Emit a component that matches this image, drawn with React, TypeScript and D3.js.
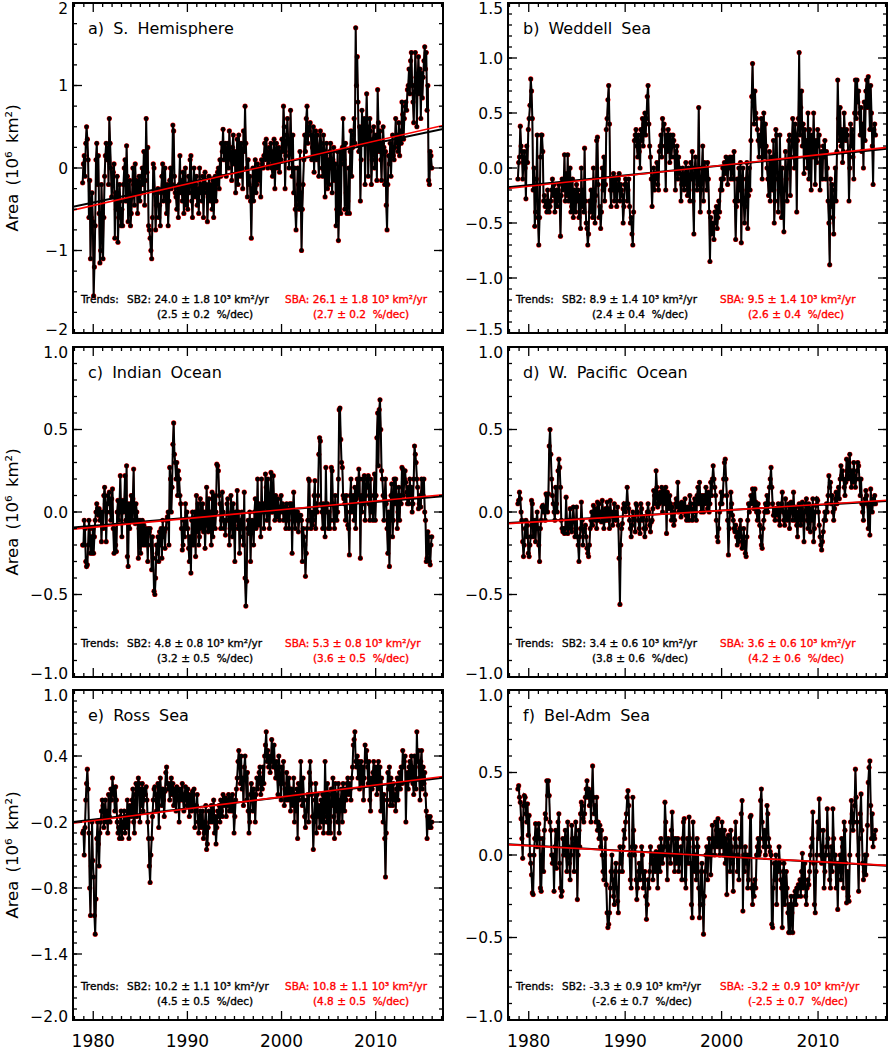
import React from 'react';
import * as d3 from 'd3';

// monthly anomalies, Nov 1978 .. Dec 2015, in hundredths of 10^6 km^2
const startYear = 1978;
const startMonth = 11;

const shArea = [
  -18, 5,
  15, -10, 30, 50, 35, 10, -60, -15, -110, -60, -30, -65,
  -155, -120, -70, 10, 30, -20, 15, -55, -115, -100, -20, -55,
  -110, -60, -10, 15, 30, 10, 25, -20, 60, 30, 0, -35,
  -20, -5, 5, -85, -30, -50, -10, -90, -60, -20, -40, -70,
  -50, -70, -20, 0, 10, -40, 27, -10, -65, -30, -15, -70,
  -55, -35, 0, -20, -45, 5, -30, -15, -55, -20, -10, -40,
  -30, -10, 0, -20, 20, -45, -15, 60, -5, 25, -70, -75,
  -85, -100, -110, -60, 5, 0, -30, -75, -45, -30, -25, -60,
  -45, -70, -30, -10, 5, -40, -20, 0, -35, -55, -20, -70,
  -40, -15, 0, -25, -20, 52, 45, -10, -30, -35, -50, -25,
  -60, -20, 15, -30, -15, -40, -5, -55, -25, 0, -45, -20,
  -50, -10, -30, 10, 15, -40, -60, -25, 0, -35, -20, -10,
  -45, -25, -55, 0, -30, -20, -40, -10, -60, -30, -5, -25,
  -20, -65, -35, -10, -30, -40, -20, -50, -15, -60, -30, -10,
  -40, -20, -5, 0, -25, 10, -10, 30, 20, 47, 10, 25,
  30, -10, 15, 30, 0, 45, 20, 10, -15, 25, 40, 5,
  20, -30, 10, 35, -20, 40, 15, -10, 30, 0, -25, 45,
  20, 75, 30, 0, -35, 10, -20, -10, -40, -85, -25, 0,
  -40, -10, 10, -30, -20, 5, -15, -5, 0, -35, 10, 5,
  0, 15, 30, 10, 35, 20, 0, 5, 25, 10, 30, 0,
  -10, 20, 35, -25, 10, 30, 0, 15, 25, -5, 20, 10,
  35, 20, 75, 50, -25, 15, 40, 60, 30, 0, 20, 70,
  25, -10, 40, -30, 0, -50, -75, -45, 0, -20, -50, 20,
  -30, -100, -50, -20, 10, 40, 20, 60, 75, 30, 50, 45,
  55, 40, 10, 25, 50, -5, 30, 45, 10, 40, 20, -10,
  25, 45, 30, 0, -10, 40, 20, -35, 15, 30, -25, 10,
  -20, 20, 30, 0, -30, 10, 25, -15, 5, -70, -50, 20,
  -88, -40, 20, -55, 5, 25, 60, 10, -50, 30, -30, -55,
  -40, 0, -55, 20, 45, -10, 25, 40, 60, 30, 170, 100,
  135, 80, 20, 50, -40, 10, 70, 45, 30, 60, -20, 40,
  90, 50, -10, 30, 60, 45, -20, 10, 35, 50, 0, 25,
  40, -15, 95, 55, 20, 45, 10, -15, 30, 50, 25, -20,
  20, -45, -75, -20, 15, 5, 30, -10, 20, 40, 15, 10,
  25, 60, 30, 40, 20, 55, 15, 45, 30, 80, 65, 35,
  60, 75, 80, 70, 95, 100, 120, 90, 130, 140, 100, 80,
  55, 100, 140, 110, 50, 105, 135, 90, 120, 60, 115, 85,
  110, 130, 147, 120, 140, 70, 100, -15, -20, 20, 15, 0,
];

const weddellArea = [
  -10, 5,
  10, 38, 20, 15, -10, 5, 15, 0, -28, 20, 5, 35,
  45, 57, 81, 70, 45, -20, 0, -53, -40, -10, 30, -45,
  -70, -45, 10, 30, 30, 15, -30, -25, -35, -30, -40, -20,
  -30, -40, -35, -30, -20, -10, -25, -15, -40, -30, -20, -35,
  -20, -15, -30, -62, -25, -10, -20, -15, 12, -30, -5, -25,
  12, -30, -25, 0, -40, -35, -10, -45, -20, -30, -40, -15,
  -30, -20, -45, -25, -55, 0, -35, -20, -40, 18, -30, -50,
  -55, -70, -60, -30, -40, -20, -35, -45, 0, -30, -50, -25,
  25, 28, -15, -45, -35, -55, -40, 0, -20, 10, -30, -15,
  35, 45, 62, 75, 40, -20, -35, -10, -20, -5, -30, -10,
  -10, -35, -20, -10, -5, -30, -15, -20, -25, -50, -35, -15,
  -10, -15, -30, -20, -10, -35, -50, -45, -60, -70, -40, 25,
  30, 35, 20, 10, 30, 15, 0, 35, 25, 45, 20, 40,
  50, 30, 45, 65, 75, 40, 20, 10, -10, -35, -10, 0,
  -20, -10, -5, 5, -15, -20, 15, 20, 30, 10, 45, 35,
  40, 20, -20, 30, 15, 35, 25, 5, 30, 10, 20, 30,
  25, 10, -20, 15, 20, -10, 10, 0, -5, -30, -15, 0,
  -10, -20, -5, 5, -15, -25, 0, -20, -30, 5, -10, 15,
  -30, -60, 0, 10, -5, -20, -15, 55, 0, -40, -20, 0,
  20, -30, 5, 0, -10, -20, 5, -10, -40, -85, -45, -60,
  -50, -55, -65, -40, -50, -35, -55, -45, -30, -40, -20, -10,
  -20, 0, -10, 5, -5, 10, 0, -15, 8, 0, 10, -10,
  5, 10, -10, 15, -30, -65, -35, -10, -30, 0, -20, 5,
  -68, -20, 0, -30, -50, -35, -10, 5, -55, -25, 0, -20,
  25, 65, 95, 60, 40, 70, 50, 45, 35, 25, 10, 30,
  20, 45, -10, 30, 50, 10, 40, 20, 0, -10, -25, 15,
  -30, 0, 10, -20, 25, -50, -30, 35, 30, -10, -40, -20,
  30, -10, -45, 0, -30, -58, -20, 15, -10, -30, 0, 25,
  30, -25, 10, 25, 45, 20, 0, 40, 30, -40, 25, 45,
  105, 30, 55, 70, 20, 40, -5, 35, 10, 25, 0, 50,
  -10, 35, 20, -20, 30, 10, 50, 20, -15, 25, 5, 35,
  20, 30, -20, 10, 15, -10, 20, 10, 25, -10, 15, 0,
  -30, -50, -88, -10, -35, -15, -45, -60, -20, 0, -30, 15,
  80, 45, 25, 55, 20, 35, 5, 15, 50, 30, 25, 35,
  30, 15, -30, 0, 40, 20, 35, 10, -10, 50, 80, 45,
  80, 60, 70, 50, 30, 55, 15, 40, 0, 60, 25, 70,
  80, 55, 83, 65, 35, 75, 50, 20, -15, 35, 40, 30,
];

const indianArea = [
  -20, -20,
  -5, -10, -30, -33, -32, -20, -5, -10, -25, -15, -25, -10,
  -25, -15, -5, 0, 5, 2, -2, 2, -5, 0, -18, 0,
  -10, 10, 15, 5, -18, 0, 10, 5, 12, 0, -5, 8,
  14, -10, -25, -10, -20, -24, 0, 7, -5, 5, 22, 0,
  -15, 7, 0, 5, 22, -5, 28, -27, -33, 5, -10, 0,
  10, -5, 8, 26, -5, -7, 5, 0, -5, -28, -10, -5,
  -25, -10, -5, -20, -8, -15, -20, -10, -15, -30, -10, -12,
  -10, -20, -35, -15, -28, -48, -50, -40, -20, -25, -15, -30,
  -12, -20, -10, -28, -5, -15, -12, -22, -10, -5, -3, 0,
  -20, 27, 20, 0, 15, 41, 54, 35, 30, 20, 30, 10,
  25, 20, 10, 5, -10, -23, -20, -5, -15, 5, -10, 0,
  -10, -22, -30, -15, -37, -5, 0, -20, -10, 0, -27, 10,
  -12, 5, -20, -15, 8, -10, -5, 5, -12, 0, -22, -8,
  15, -5, -12, 8, -10, 0, -20, 12, -15, 5, 10, -10,
  0, 29, 28, 25, 10, 5, -10, -5, 12, 0, -10, -5,
  -14, -5, 5, 8, -5, -20, -10, 10, 0, -15, 5, -8,
  -30, 0, -5, 13, -10, 0, -25, -10, -5, 0, -15, -20,
  12, -40, -57, -42, -10, -5, -13, 0, -30, -10, -5, -10,
  -20, 0, 8, -10, -5, 20, -8, 5, 0, -15, 20, 0,
  5, -10, 0, 23, 15, -5, 20, 10, -10, 5, 24, 0,
  0, 22, 5, -5, 10, 2, -3, 8, 0, -5, 3, 10,
  0, 5, -5, 3, 0, -10, 5, 2, -5, -10, 5, 0,
  5, -25, 0, 12, -5, -10, 0, -5, 0, -12, -5, -2,
  -2, -5, -30, -10, -15, -20, -39, -25, -10, -5, 20, 19,
  -5, -10, 0, -8, -5, 10, 19, -10, 5, 0, 10, 35,
  45, 43, 5, 0, -10, 5, 0, -15, 27, 0, 5, -10,
  0, -10, -5, 27, 25, 5, -5, -10, 10, 0, -5, 0,
  20, 62, 63, 44, 30, 27, 10, 8, 5, -5, 10, 0,
  -8, -10, -26, 10, 20, 0, 5, 10, -5, 15, -10, 8,
  20, 10, 26, 20, -28, 10, 0, 20, 5, 22, -5, 10,
  20, 15, 22, 5, -5, 20, 0, 5, -5, 10, 23, -5,
  10, 45, 60, 28, 62, 68, 50, 25, 20, 10, -5, 10,
  20, 5, -10, -25, 0, -33, -5, 10, 17, -15, -5, 20,
  5, 20, 10, -10, 0, 15, -5, 10, 5, 27, 26, 10,
  20, 25, 18, 12, 5, 15, 5, 20, 10, 15, 0, 5,
  20, 40, 35, 30, 20, 15, 2, 5, 10, 3, 20, 12,
  10, 20, 0, -5, -30, -28, -12, -15, -30, -32, -20, -15,
];

const wPacificArea = [
  5, 7,
  12, 8, 0, -5, -18, -27, -20, -10, -5, -15, -8, -25,
  -27, -20, -15, 7, 5, -15, -5, -10, -18, -5, 0, -10,
  -20, -30, -10, -5, 3, 4, 0, 3, -5, 11, 10, 0,
  11, 40, 50, 35, 20, 10, 5, 0, -5, 15, 5, 0,
  25, 32, 27, 15, -5, -10, -12, -10, -13, -10, 9, -5,
  -13, -10, -5, 2, -10, -12, -5, 3, -5, -15, -10, 3,
  -15, -20, -30, -15, -10, 6, -5, -20, -12, -10, -8, -15,
  -22, -25, -27, -20, -10, -5, 0, -8, 4, -3, -5, 2,
  -10, 6, -5, 5, -2, 0, -6, 7, 0, -10, -5, 2,
  -5, 6, 2, -5, -10, 7, -2, 0, -8, -3, 5, -5,
  0, -5, 3, -8, -28, -56, -20, -10, -7, 2, 5, 4,
  0, 5, 15, 5, 2, -5, -10, -15, -8, 0, -3, -5,
  -12, 5, 4, 0, -5, -10, -13, 5, 2, -5, -3, -10,
  -15, -10, -5, 0, 5, 0, -8, -12, -6, -5, 2, 13,
  10, 5, 25, 15, 3, 10, 5, 12, 6, 15, 0, 13,
  5, 10, 15, -13, 12, 8, 2, 10, 5, -5, 3, 0,
  -8, -5, 5, 8, 3, 18, 0, 5, 2, -3, 6, 0,
  5, 0, 8, -2, -5, 3, 0, -5, 10, 5, 2, -5,
  -3, 5, 8, 0, -5, 10, 15, 5, 18, 8, 0, 10,
  5, 0, 10, 5, 15, 8, 2, 12, 0, 5, 18, 10,
  20, 28, 20, 15, 10, -5, -15, -18, -10, 0, 5, 12,
  5, 10, 20, 30, 32, 20, 10, -5, -26, -10, 0, 12,
  5, -2, -5, -10, -12, -8, -15, -20, -12, -18, -10, -5,
  -15, -22, -20, -10, -18, -25, -27, -15, -5, 5, 0, 5,
  10, 5, 14, 5, 2, 14, 6, 0, -5, 5, 0, -8,
  -15, -20, -22, -10, -5, 0, 5, 0, 10, 0, 5, 15,
  20, 27, 15, 5, -2, 0, -5, 2, 0, -2, 5, -5,
  -8, 2, 5, 12, 0, -5, -8, 8, 0, -5, -3, 5,
  -10, 2, 6, 0, -5, 12, 0, -5, 3, -8, -15, 0,
  5, -5, -8, 2, 6, -5, -18, 0, 5, 8, -5, -10,
  5, 0, -12, 2, -5, 8, -18, -10, 0, 4, 8, 7,
  0, -8, -15, -20, -23, -18, -12, -5, 0, -5, 5, 0,
  10, 22, 15, 18, 5, 10, 0, -5, 2, 8, 12, 5,
  10, 15, 8, 20, 28, 22, 25, 20, 15, 10, 18, 32,
  25, 20, 30, 35, 22, 15, 25, 18, 30, 22, 15, 20,
  25, 30, 28, 20, 10, 20, 5, 0, -5, 5, 8, 13,
  10, 5, -10, 3, -14, 14, 5, 0, 8, 5, 10, 5,
];

const rossArea = [
  -30, -28,
  -50, -25, 0, 15, 28, 10, -30, -80, -105, -60, -20, -55,
  -70, -105, -122, -90, -35, -20, -40, -60, -30, -20, -10, 0,
  -5, -25, -15, 0, -20, -10, -30, 5, -15, -20, 10, 0,
  20, 10, 5, -10, 12, 0, -20, -30, -25, -35, -15, -10,
  -35, -20, -25, -10, -30, -15, -25, 0, -20, -35, -5, -10,
  -15, 0, 10, -20, -30, 5, 15, -15, 10, 20, 15, -20,
  10, -5, 15, -10, 0, 10, 5, 12, 0, -20, -35, -60,
  -75, -50, -35, -15, 0, 10, 12, 5, -10, 0, 15, -25,
  10, 20, 5, -5, 10, 0, -15, 8, 25, 30, 15, 10,
  15, 0, 10, 20, 5, 15, -5, 10, 5, -10, 12, 8,
  0, -20, 10, 0, 5, 15, 0, -10, 5, 12, 0, -5,
  10, 0, -15, 5, 0, -10, 8, -5, 10, -25, -10, -5,
  5, -20, -30, -15, -10, -25, -20, -10, -35, -30, -20, -5,
  -45, -40, -25, -10, -20, -15, -5, -20, -10, 0, -30, -15,
  -40, -25, -10, -15, -5, -20, 0, -10, -15, 5, -5, 0,
  2, -15, 0, -5, 5, -10, 0, 2, -10, 5, -5, -30,
  -15, 0, 10, 20, 35, 45, 30, 15, 40, 10, 20, -5,
  30, 40, 20, 0, 25, -10, -30, -20, 5, 15, 0, -10,
  10, 0, -20, 5, 20, 10, 15, 25, 30, 5, 20, 10,
  30, 15, 40, 50, 62, 35, 45, 30, 40, 25, 35, 55,
  40, 30, 50, 30, 20, 35, 20, 5, 40, 30, 15, 0,
  30, 15, 35, -5, 10, 0, 25, 15, 0, 20, 10, -10,
  10, 0, -5, 20, -20, 5, -10, 10, -35, 15, 0, 5,
  35, 10, -5, 20, 0, -15, -25, -10, 0, 5, -20, 25,
  35, 15, 5, -15, -45, -20, 0, 15, -30, 5, -15, -5,
  -25, -10, 0, -20, 5, -30, -15, 35, 0, -20, 15, -30,
  5, -20, -30, 10, -5, 20, -15, -35, 15, -10, 5, -20,
  15, -30, -10, 0, 10, -20, 15, 5, -10, 10, 0, 15,
  20, 5, 15, 10, 0, 20, 30, 50, 55, 62, 35, 30,
  40, 20, 35, 10, 25, 35, 15, 30, 0, 20, 50, 35,
  45, 30, 15, 35, 0, -10, 20, 10, 25, 35, 15, 30,
  25, 5, 30, 35, 10, 30, -10, 20, 0, -20, 5, -35,
  -70, -30, 0, 25, 10, 30, -5, 20, 10, -5, 15, 0,
  5, -10, 10, 20, 0, 15, 25, 10, 30, 15, 45, 30,
  35, 40, -20, 15, 25, 10, 30, 35, 20, 40, 30, 15,
  5, 40, 30, 10, 62, 35, 45, 20, 0, 35, 45, 10,
  30, 15, 25, 5, -10, -35, -15, -20, -25, -15, -25, -20,
];

const belAdmArea = [
  40, 42,
  35, 32, 22, 10, -2, 30, 36, 35, 25, 20, 31, 12,
  24, 0, -5, -12, -23, -24, 0, 10, 19, 10, 5, 15,
  19, 10, -20, -22, 0, 10, -10, 15, 25, 22, 45, 36,
  45, 36, 20, 15, 0, -5, 0, -22, 5, 15, -8, 10,
  20, 25, -5, -20, -25, -22, 10, 0, 5, 15, 0, -10,
  20, 5, -5, -15, 0, 18, 10, 5, -10, 10, 20, 10,
  -27, 0, 15, 5, 25, 32, 30, 22, 20, 25, 35, 40,
  45, 35, 40, 30, 38, 20, 35, 54, 35, 25, 30, 20,
  35, 15, 20, 10, 18, 5, 15, 0, -10, -15, 0, 10,
  -18, -35, -44, -42, -35, -20, -10, 0, -15, -25, -30, -10,
  -5, -20, -28, -35, -10, 5, -5, 0, -10, 5, 15, 10,
  20, 25, 35, 39, 30, 0, -15, -20, 5, 35, 15, 0,
  5, -15, -27, -20, -10, -5, -15, -10, 5, 0, -20, -15,
  -10, -25, -39, -30, -15, -20, -10, 5, -5, 0, -15, -5,
  0, -10, 2, -5, -20, 0, 5, -10, 10, 5, -5, 0,
  5, 32, 20, 0, -15, 10, 5, 0, -5, 15, 26, 10,
  0, -10, 10, -5, 5, 10, -10, -5, 0, 5, -15, 10,
  20, 22, -15, -20, 0, 10, -5, 23, 10, -5, -30, -38,
  20, 5, -10, 0, -15, 10, 5, -20, -38, -30, -10, -5,
  -30, -48, -25, -10, 0, 5, -15, 0, 10, 5, -12, 0,
  18, 5, 10, 0, 20, 15, 5, 22, 10, 0, 15, 5,
  20, 10, 0, 15, -5, 10, -24, 0, 12, 5, -10, 15,
  5, -5, -22, 0, 10, 20, 5, -10, 0, -15, 10, 5,
  25, 33, -34, 0, -10, 5, -5, 0, -20, -15, 0, 23,
  24, -20, -30, -18, -25, -15, -20, 0, 5, 10, 0, 2,
  33, 40, 20, 10, 5, 15, 0, 5, 30, 25, 10, 5,
  2, 0, -42, -44, -20, -5, -15, 0, -30, -5, -10, 5,
  -5, -15, -20, -44, -10, -5, -30, -25, -10, -20, -35, -47,
  -30, -47, -25, -35, -47, -30, -25, -22, -30, -20, -25, -18,
  -20, -15, -25, -10, 1, -20, -15, -5, -25, -30, -20, -15,
  -18, -10, 0, 5, 10, 26, -5, -30, -35, -10, 0, 20,
  10, 34, 15, 0, -5, 5, 15, -20, -10, 0, 5, 28,
  10, 0, -15, -20, 5, -10, 28, 10, -5, 0, -20, -5,
  -33, -10, -5, 0, -15, 10, 5, -20, 20, 15, -5, -29,
  -10, -25, -28, 0, 20, 33, 25, 15, 20, 30, 52, 35,
  20, 0, -22, 10, 25, 37, 15, -5, -15, -10, 0, -12,
  0, 18, 44, 53, 57, 30, 10, 25, 5, 12, 10, 15,
];

const panelTitles = ['a) S. Hemisphere', 'b) Weddell Sea', 'c) Indian Ocean', 'd) W. Pacific Ocean', 'e) Ross Sea', 'f) Bel-Adm Sea'];
const seriesList = [shArea, weddellArea, indianArea, wPacificArea, rossArea, belAdmArea];

// trends in 10^3 km^2/yr and %/dec
const sb2Trend = [24.0, 8.9, 4.8, 3.4, 10.2, -3.3];
const sbaTrend = [26.1, 9.5, 5.3, 3.6, 10.8, -3.2];
const trendErr = [1.8, 1.4, 0.8, 0.6, 1.1, 0.9];
const sb2Pct = [2.5, 2.4, 3.2, 3.8, 4.5, -2.6];
const sbaPct = [2.7, 2.6, 3.6, 4.2, 4.8, -2.5];
const pctErr = [0.2, 0.4, 0.5, 0.6, 0.5, 0.7];

const yTickLabels = [
  ['−2', '−1', '0', '1', '2'],
  ['−1.5', '−1.0', '−0.5', '0.0', '0.5', '1.0', '1.5'],
  ['−1.0', '−0.5', '0.0', '0.5', '1.0'],
  ['−1.0', '−0.5', '0.0', '0.5', '1.0'],
  ['−2.0', '−1.4', '−0.8', '−0.2', '0.4', '1.0'],
  ['−1.0', '−0.5', '0.0', '0.5', '1.0'],
];
const yMinorStep = [0.25, 0.1, 0.1, 0.1, 0.1, 0.1];
const yearLabels = ['1980', '1990', '2000', '2010'];

const xDomain: [number, number] = [1977.85, 2017.15];
const colLeft = [73, 508];
const colWidth = [370, 379];
const rowTop = [3, 347, 690];
const panelHeight = 330;
const FONT = '"DejaVu Sans", sans-serif';

const num = (s: string) => parseFloat(s.replace('−', '-'));

function Panel({ idx }: { idx: number }) {
  const col = idx % 2;
  const row = Math.floor(idx / 2);
  const x0 = colLeft[col];
  const y0 = rowTop[row];
  const w = colWidth[col];
  const h = panelHeight;

  const ticks = yTickLabels[idx].map(num);
  const yDom = d3.extent(ticks) as [number, number];
  const x = d3.scaleLinear().domain(xDomain).range([0, w]);
  const y = d3.scaleLinear().domain(yDom).range([h, 0]);

  const vals = seriesList[idx].map((v) => v / 100);
  const times = vals.map((_, i) => startYear + (startMonth - 1 + i + 0.5) / 12);
  const tMean = d3.mean(times) as number;

  const line = d3.line<number>().x((_, i) => x(times[i])).y((d) => y(d));
  const trend = (slope: number) =>
    d3.line<number>().x((t) => x(t)).y((t) => y((slope / 1000) * (t - tMean)))(xDomain) as string;

  const yMinor = d3.range(yDom[0], yDom[1] + 1e-6, yMinorStep[idx]);
  const xMinor = d3.range(Math.ceil(xDomain[0]), xDomain[1], 1);
  const xMajor = yearLabels.map(Number);
  const clipId = `clip-${idx}`;

  const f1 = (v: number) => v.toFixed(1);
  // end labels sit a little inside the frame, as in the original
  const labelShift = (i: number) => (i === 0 ? -4 : i === ticks.length - 1 ? 5 : 0);

  return (
    <g transform={`translate(${x0},${y0})`}>
      <defs>
        <clipPath id={clipId}>
          <rect x={0} y={0} width={w} height={h} />
        </clipPath>
      </defs>
      <g clipPath={`url(#${clipId})`}>
        <path d={line(vals) as string} fill="none" stroke="#ff0000" strokeWidth={1.2} />
        {vals.map((v, i) => (
          <circle key={`r${i}`} cx={x(times[i])} cy={y(v)} r={2.6} fill="#ff0000" />
        ))}
        <path d={line(vals) as string} fill="none" stroke="#000" strokeWidth={2} />
        {vals.map((v, i) => (
          <circle key={`b${i}`} cx={x(times[i])} cy={y(v)} r={2.2} fill="#000" />
        ))}
        <path d={trend(sb2Trend[idx])} stroke="#000" strokeWidth={2} fill="none" />
        <path d={trend(sbaTrend[idx])} stroke="#ff0000" strokeWidth={1.6} fill="none" />
      </g>

      {/* ticks on all four sides */}
      {xMinor.map((t) => {
        const major = xMajor.includes(t);
        const len = major ? 9 : 4;
        return (
          <g key={`xt${t}`}>
            <line x1={x(t)} x2={x(t)} y1={h} y2={h - len} stroke="#000" strokeWidth={1.3} />
            <line x1={x(t)} x2={x(t)} y1={0} y2={len} stroke="#000" strokeWidth={1.3} />
          </g>
        );
      })}
      {yMinor.map((v, i) => (
        <g key={`ym${i}`}>
          <line x1={0} x2={4} y1={y(v)} y2={y(v)} stroke="#000" strokeWidth={1.3} />
          <line x1={w} x2={w - 4} y1={y(v)} y2={y(v)} stroke="#000" strokeWidth={1.3} />
        </g>
      ))}
      {ticks.map((v, i) => (
        <g key={`yt${i}`}>
          <line x1={0} x2={9} y1={y(v)} y2={y(v)} stroke="#000" strokeWidth={1.3} />
          <line x1={w} x2={w - 9} y1={y(v)} y2={y(v)} stroke="#000" strokeWidth={1.3} />
          <text
            x={-5}
            y={y(v) + labelShift(i)}
            dy="0.36em"
            textAnchor="end"
            fontSize={15.5}
            fontFamily={FONT}
          >
            {yTickLabels[idx][i]}
          </text>
        </g>
      ))}
      <rect x={0} y={0} width={w} height={h} fill="none" stroke="#000" strokeWidth={2} />

      <text x={15} y={31} fontSize={16} fontFamily={FONT} style={{ wordSpacing: '4px' }}>
        {panelTitles[idx]}
      </text>

      <g fontSize={10.5} fontFamily={FONT} strokeWidth={0.35} xmlSpace="preserve" style={{ whiteSpace: 'pre' }}>
        <g fill="#000" stroke="#000">
          <text x={8} y={h - 30}>Trends:</text>
          <text x={54} y={h - 30}>{`SB2: ${f1(sb2Trend[idx])} ± ${f1(trendErr[idx])} 10³ km²/yr`}</text>
          <text x={84} y={h - 15} xmlSpace="preserve">{`(${f1(sb2Pct[idx])} ± ${f1(pctErr[idx])}  %/dec)`}</text>
        </g>
        <g fill="#ff0000" stroke="#ff0000">
          <text x={212} y={h - 30}>{`SBA: ${f1(sbaTrend[idx])} ± ${f1(trendErr[idx])} 10³ km²/yr`}</text>
          <text x={240} y={h - 15} xmlSpace="preserve">{`(${f1(sbaPct[idx])} ± ${f1(pctErr[idx])}  %/dec)`}</text>
        </g>
      </g>

      {col === 0 && (
        <text
          transform={`translate(${12 - x0},${h / 2}) rotate(-90)`}
          textAnchor="middle"
          dy="0.35em"
          fontSize={16.5}
          fontFamily={FONT}
          style={{ wordSpacing: '3px' }}
        >
          Area (10⁶ km²)
        </text>
      )}
      {row === 2 &&
        yearLabels.map((lab) => (
          <text key={lab} x={x(Number(lab))} y={h + 27} textAnchor="middle" fontSize={17} fontFamily={FONT}>
            {lab}
          </text>
        ))}
    </g>
  );
}

export default function App() {
  return (
    <svg
      width={888}
      height={1050}
      style={{ position: 'absolute', left: 0, top: 0, background: '#fff' }}
    >
      <rect width={888} height={1050} fill="#fff" />
      {panelTitles.map((_, i) => (
        <Panel key={i} idx={i} />
      ))}
    </svg>
  );
}
